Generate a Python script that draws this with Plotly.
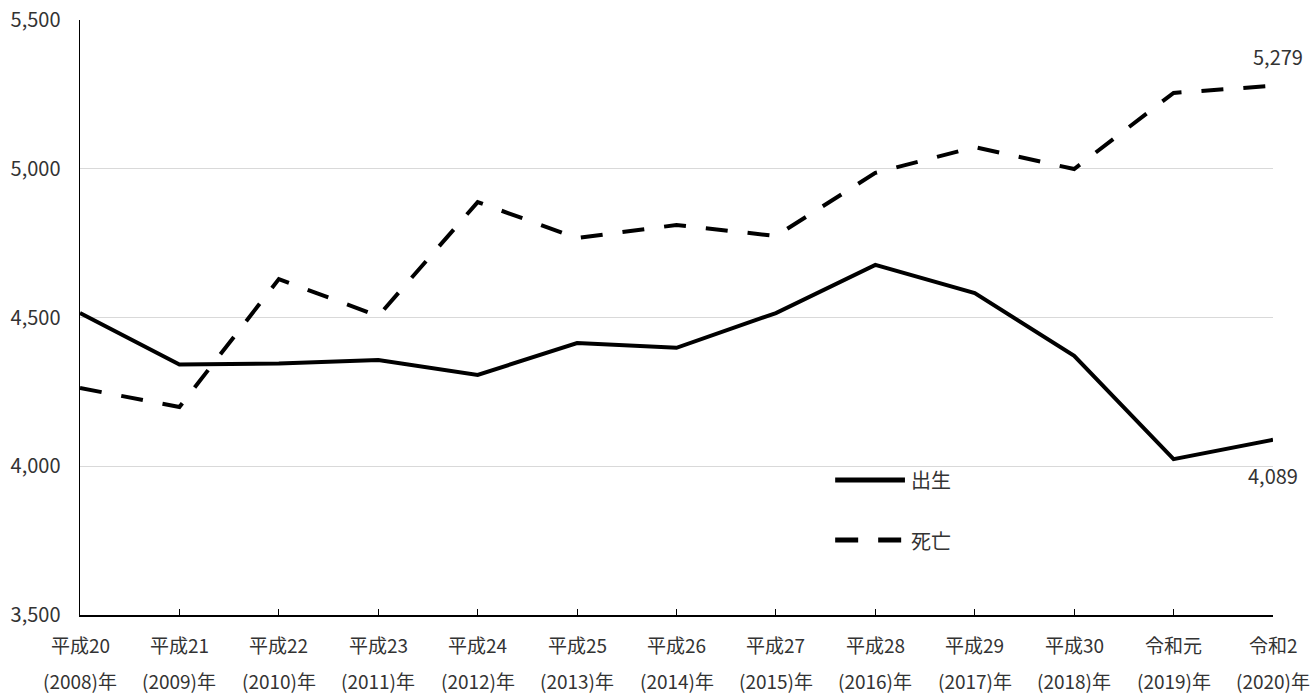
import plotly.graph_objects as go

era_labels = ["平成20", "平成21", "平成22", "平成23", "平成24", "平成25", "平成26",
              "平成27", "平成28", "平成29", "平成30", "令和元", "令和2"]
year_labels = ["(2008)年", "(2009)年", "(2010)年", "(2011)年", "(2012)年", "(2013)年",
               "(2014)年", "(2015)年", "(2016)年", "(2017)年", "(2018)年", "(2019)年",
               "(2020)年"]
births = [4515, 4342, 4345, 4357, 4307, 4414, 4398, 4515, 4677, 4582, 4371, 4024, 4089]
deaths = [4263, 4199, 4629, 4505, 4888, 4767, 4811, 4774, 4986, 5073, 4999, 5255, 5279]
y_ticks = [3500, 4000, 4500, 5000, 5500]

FONT = "Noto Sans CJK JP, Meiryo, sans-serif"
TXT = "#333333"
FS = 20
XFS = 19
xs = list(range(len(era_labels)))

fig = go.Figure()
fig.add_trace(go.Scatter(x=xs, y=births, mode="lines", name="出生",
                         line=dict(color="black", width=4), showlegend=False))
fig.add_trace(go.Scatter(x=xs, y=deaths, mode="lines", name="死亡",
                         line=dict(color="black", width=4, dash="22px,20px"), showlegend=False))

# x category labels (two lines with wide spacing)
for x, era, yr in zip(xs, era_labels, year_labels):
    fig.add_annotation(x=x, y=0, xref="x", yref="paper", text=era, showarrow=False,
                       xanchor="center", yanchor="middle", yshift=-29,
                       font=dict(family=FONT, size=XFS, color=TXT))
    fig.add_annotation(x=x, y=0, xref="x", yref="paper", text=yr, showarrow=False,
                       xanchor="center", yanchor="middle", yshift=-65,
                       font=dict(family=FONT, size=XFS, color=TXT))

# labels for last values
fig.add_annotation(x=xs[-1], y=deaths[-1], text=f"{deaths[-1]:,}", showarrow=False,
                   xanchor="center", yanchor="middle", xshift=5, yshift=29,
                   font=dict(family=FONT, size=FS, color=TXT))
fig.add_annotation(x=xs[-1], y=births[-1], text=f"{births[-1]:,}", showarrow=False,
                   xanchor="center", yanchor="middle", xshift=0, yshift=-36,
                   font=dict(family=FONT, size=FS, color=TXT))

# legend drawn in paper coordinates
fig.add_shape(type="line", xref="paper", yref="paper", x0=0.633, x1=0.6915, y0=0.227, y1=0.227,
              line=dict(color="black", width=5))
fig.add_shape(type="line", xref="paper", yref="paper", x0=0.633, x1=0.6915, y0=0.126, y1=0.126,
              line=dict(color="black", width=5, dash="23px,20px"))
fig.add_annotation(xref="paper", yref="paper", x=0.695, y=0.227, text="出生", showarrow=False,
                   xanchor="left", yanchor="middle", font=dict(family=FONT, size=FS, color=TXT))
fig.add_annotation(xref="paper", yref="paper", x=0.695, y=0.126, text="死亡", showarrow=False,
                   xanchor="left", yanchor="middle", font=dict(family=FONT, size=FS, color=TXT))

fig.update_layout(
    width=1314, height=693,
    margin=dict(l=80, r=41, t=20, b=78, autoexpand=False),
    paper_bgcolor="white", plot_bgcolor="white",
    font=dict(family=FONT, size=FS, color=TXT),
    hovermode=False,
    xaxis=dict(range=[0, 12], tickvals=xs, showticklabels=False, showgrid=False,
               showline=True, linecolor="black", linewidth=1.5, automargin=False,
               ticks="inside", ticklen=6, tickcolor="black", zeroline=False),
    yaxis=dict(range=[3500, 5500], tickvals=y_ticks, tickformat=",", showgrid=True,
               gridcolor="#d9d9d9", gridwidth=1, showline=True, linecolor="black",
               linewidth=1.5, ticks="outside", ticklen=14, tickcolor="rgba(0,0,0,0)",
               zeroline=False, automargin=False, ticklabeloverflow="allow",
               tickfont=dict(family=FONT, size=FS, color=TXT)),
)

fig.write_html("out.html", config={"displayModeBar": False, "staticPlot": True},
               post_script="document.body.style.margin='0';document.body.style.overflow='hidden';")
